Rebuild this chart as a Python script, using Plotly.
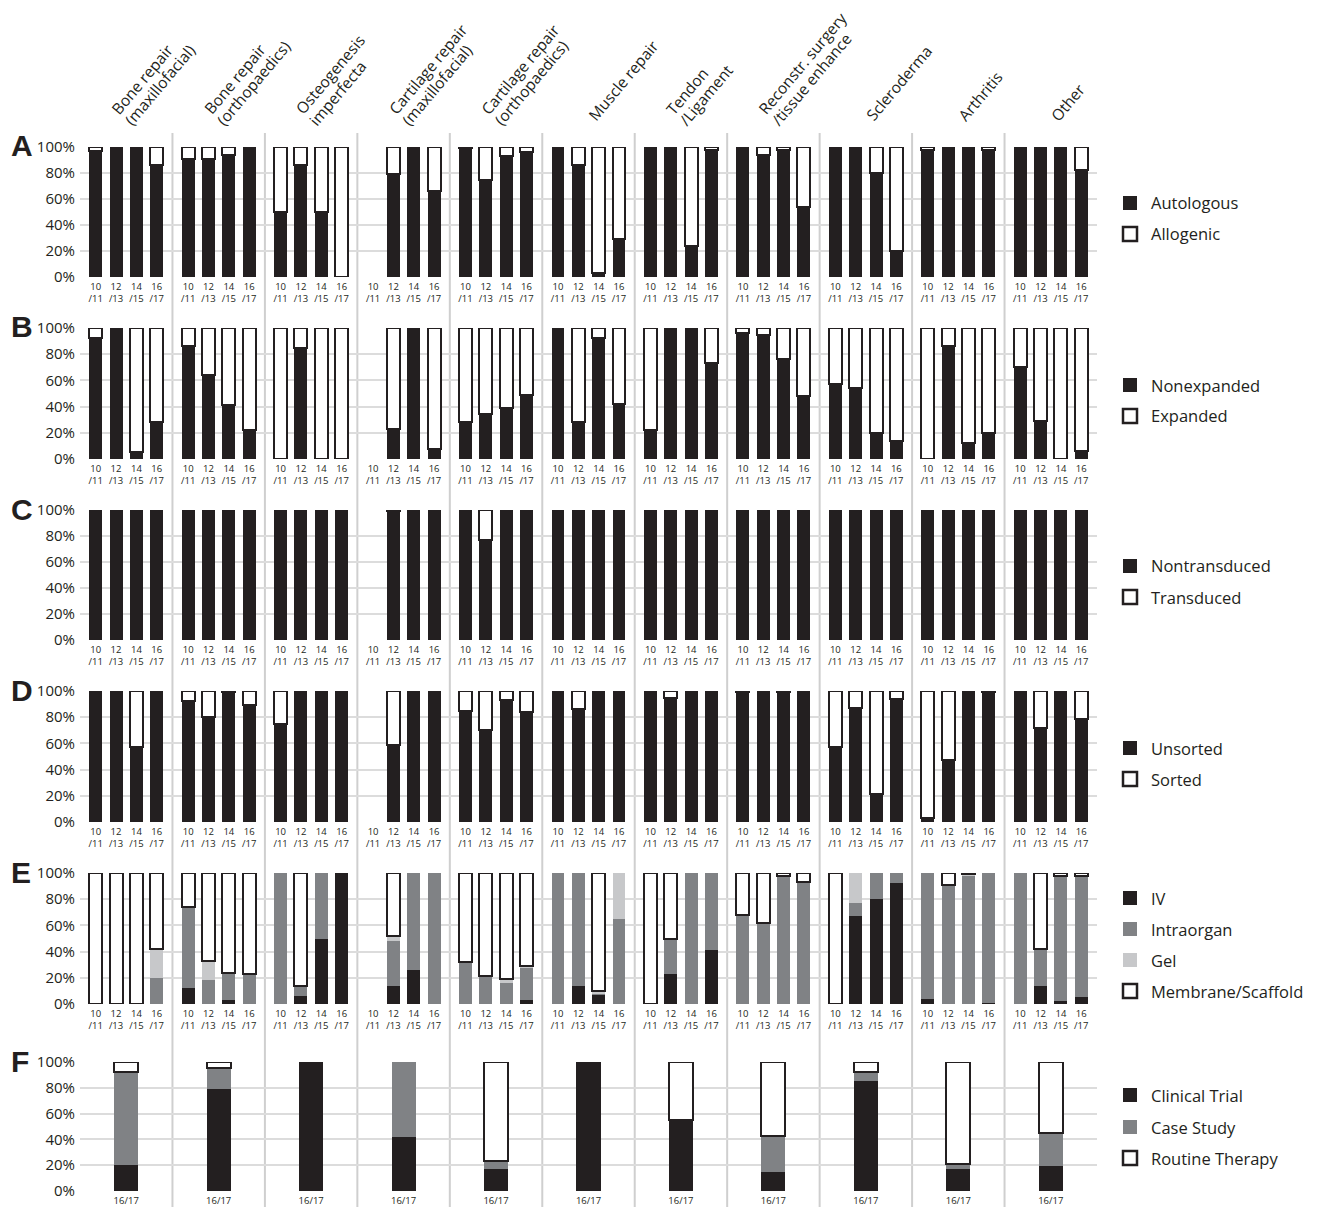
import math
import plotly.graph_objects as go

# ---------------- data ----------------
groups = [["Bone repair", "(maxillofacial)"], ["Bone repair", "(orthopaedics)"], ["Osteogenesis", "imperfecta"],
          ["Cartilage repair", "(maxillofacial)"], ["Cartilage repair", "(orthopaedics)"], ["Muscle repair"],
          ["Tendon", "/Ligament"], ["Reconstr. surgery", "/tissue enhance"], ["Scleroderma"], ["Arthritis"], ["Other"]]
periods = ["10<br>/11", "12<br>/13", "14<br>/15", "16<br>/17"]
period_f = "16/17"
pct_ticks = [0, 20, 40, 60, 80, 100]
pct_text = ["0%", "20%", "40%", "60%", "80%", "100%"]

# Row A: % autologous (rest allogenic)
autologous = [[97, 100, 100, 86], [91, 91, 94, 100], [50, 86, 50, 0], [None, 79, 100, 66],
              [99, 75, 93, 96], [100, 86, 3, 29], [100, 100, 24, 98], [100, 94, 98, 54],
              [100, 100, 80, 20], [98, 100, 100, 98], [100, 100, 100, 82]]
# Row B: % nonexpanded
nonexpanded = [[92, 100, 5, 28], [86, 64, 41, 22], [0, 85, 0, 0], [None, 23, 100, 8],
               [28, 34, 39, 49], [100, 28, 92, 42], [22, 100, 100, 73], [96, 95, 76, 48],
               [57, 54, 20, 14], [0, 86, 12, 20], [70, 29, 0, 6]]
# Row C: % nontransduced
nontransduced = [[100, 100, 100, 100], [100, 100, 100, 100], [100, 100, 100, 100], [None, 99, 100, 100],
                 [100, 77, 100, 100], [100, 100, 100, 100], [100, 100, 100, 100], [100, 100, 100, 100],
                 [100, 100, 100, 100], [100, 100, 100, 100], [100, 100, 100, 100]]
# Row D: % unsorted
unsorted = [[100, 100, 57, 100], [92, 80, 99, 89], [75, 100, 100, 100], [None, 59, 100, 100],
            [85, 70, 93, 84], [100, 86, 100, 100], [100, 95, 100, 100], [99, 100, 99, 100],
            [57, 87, 21, 94], [3, 47, 100, 99], [100, 72, 100, 79]]
# Row E: IV / Intraorgan / Gel / Membrane-Scaffold
e_iv = [[0, 0, 0, 0], [12, 0, 3, 0], [0, 6, 50, 100], [None, 14, 26, 0], [0, 0, 0, 3],
        [0, 14, 7, 0], [0, 23, 0, 41], [0, 0, 0, 0], [0, 67, 80, 92], [4, 0, 0, 1], [0, 14, 2, 5]]
e_intra = [[0, 0, 0, 20], [62, 18, 21, 23], [100, 8, 50, 0], [None, 34, 74, 100], [32, 21, 16, 25],
           [100, 86, 1, 65], [0, 27, 100, 59], [68, 62, 97, 93], [0, 10, 20, 8], [96, 91, 98, 99],
           [100, 28, 95, 93]]
e_gel = [[0, 0, 0, 22], [0, 15, 0, 0], [0, 0, 0, 0], [None, 4, 0, 0], [0, 0, 3, 1],
         [0, 0, 2, 35], [0, 0, 0, 0], [0, 0, 1, 0], [0, 23, 0, 0], [0, 0, 1, 0], [0, 0, 1, 0]]
e_memb = [[100, 100, 100, 58], [26, 67, 76, 77], [0, 86, 0, 0], [None, 48, 0, 0], [68, 79, 81, 71],
          [0, 0, 90, 0], [100, 50, 0, 0], [32, 38, 2, 7], [100, 0, 0, 0], [0, 9, 1, 0], [0, 58, 2, 2]]
# Row F: Clinical Trial / Case Study / Routine Therapy (16/17 only)
f_trial = [20, 79, 100, 42, 17, 100, 55, 15, 85, 17, 19]
f_case = [72, 16, 0, 58, 6, 0, 0, 28, 7, 4, 26]
f_routine = [8, 5, 0, 0, 77, 0, 45, 57, 8, 79, 55]

BLACK = "#231f20"
GRAY = "#808285"
LIGHT = "#c7c8ca"
WHITE = "#ffffff"
GRID = "#dcdcdc"
SEP = "#cfcfcf"
FONT = "Open Sans"

# page body has an 8px margin: the figure is sized so page == window
OFF = 8
W, H = 1318 - OFF, 1207 - OFF
X0, X1 = 80, 1097
rows_pix = [(147, 277), (328, 459), (510, 640), (691, 822), (873, 1004), (1062, 1191)]


def xp(px):
    return (px - OFF) / W


def yp(py):
    return 1 - (py - OFF) / H


def nz(v):
    return None if (v is None or v == 0) else v


NG = len(groups)
offs = [-0.33, -0.11, 0.11, 0.33]
bar_x = [g + o for g in range(NG) for o in offs]
bar_text = [periods[j] for g in range(NG) for j in range(4)]

fig = go.Figure()


def add_row(row, series):
    """series: list of (values 11x4, colour, outlined)"""
    xa = "x" if row == 0 else f"x{row + 1}"
    ya = "y" if row == 0 else f"y{row + 1}"
    for vals, col, outl in series:
        flat = [nz(v) for gv in vals for v in gv]
        fig.add_trace(go.Bar(
            x=bar_x, y=flat, width=0.14, xaxis=xa, yaxis=ya,
            marker=dict(color=col, line=dict(color=BLACK if outl else col, width=2 if outl else 0)),
            showlegend=False, hoverinfo="skip"))


def comp(vals):
    return [[None if v is None else 100 - v for v in gv] for gv in vals]


add_row(0, [(autologous, BLACK, False), (comp(autologous), WHITE, True)])
add_row(1, [(nonexpanded, BLACK, False), (comp(nonexpanded), WHITE, True)])
add_row(2, [(nontransduced, BLACK, False), (comp(nontransduced), WHITE, True)])
add_row(3, [(unsorted, BLACK, False), (comp(unsorted), WHITE, True)])
add_row(4, [(e_iv, BLACK, False), (e_intra, GRAY, False), (e_gel, LIGHT, False), (e_memb, WHITE, True)])

# Row F
for vals, col, outl in [(f_trial, BLACK, False), (f_case, GRAY, False), (f_routine, WHITE, True)]:
    fig.add_trace(go.Bar(
        x=list(range(NG)), y=[nz(v) for v in vals], width=0.26, xaxis="x6", yaxis="y6",
        marker=dict(color=col, line=dict(color=BLACK if outl else col, width=2 if outl else 0)),
        showlegend=False, hoverinfo="skip"))

layout = dict(
    width=W, height=H, margin=dict(l=0, r=0, t=0, b=0, pad=0, autoexpand=False),
    paper_bgcolor="white", plot_bgcolor="rgba(0,0,0,0)",
    barmode="stack", bargap=0, showlegend=False,
    font=dict(family=FONT, color=BLACK),
)

for r, (top, bot) in enumerate(rows_pix):
    xk = "xaxis" if r == 0 else f"xaxis{r + 1}"
    yk = "yaxis" if r == 0 else f"yaxis{r + 1}"
    ya = "y" if r == 0 else f"y{r + 1}"
    if r < 5:
        tv, tt = bar_x, bar_text
    else:
        tv, tt = list(range(NG)), [period_f] * NG
    layout[xk] = dict(domain=[xp(X0), xp(X1)], range=[-0.5, NG - 0.5], anchor=ya,
                      showgrid=False, zeroline=False, showline=False, ticks="", automargin=False,
                      tickmode="array", tickvals=tv, ticktext=tt,
                      tickfont=dict(size=9.5, family=FONT, color=BLACK),
                      ticklabelstandoff=2, fixedrange=True)
    layout[yk] = dict(domain=[yp(bot), yp(top)], range=[0, 100], anchor="x" if r == 0 else f"x{r + 1}",
                      tickmode="array", tickvals=pct_ticks, ticktext=pct_text, automargin=False,
                      showgrid=True, gridcolor=GRID, gridwidth=2, zeroline=False, showline=False,
                      ticks="", tickfont=dict(size=15, family=FONT, color=BLACK),
                      ticklabelstandoff=4, fixedrange=True)

fig.update_layout(**layout)

shapes = []
# group separators
for g in range(NG - 1):
    shapes.append(dict(type="line", xref="x", yref="paper", x0=g + 0.5, x1=g + 0.5,
                       y0=yp(133), y1=0, line=dict(color=SEP, width=2), layer="below"))

annotations = []
# panel letters
for letter, (top, bot) in zip("ABCDEF", rows_pix):
    annotations.append(dict(text=f"<b>{letter}</b>", xref="paper", yref="paper", x=xp(9), y=yp(top - 1),
                            xanchor="left", yanchor="middle", showarrow=False,
                            font=dict(size=30, family="Liberation Sans", color=BLACK)))

# column headers (rotated, one annotation per line)
ANG = 50
LS = 17
dxl, dyl = LS * math.sin(math.radians(ANG)), LS * math.cos(math.radians(ANG))
for g, lines in enumerate(groups):
    cx = X0 + (g + 0.5) * (X1 - X0) / NG
    if len(lines) == 2:
        starts = [(cx - 23, 121.5), (cx - 23 + dxl, 121.5 + dyl)]
    else:
        starts = [(cx - 8, 128)]
    for txt, (sx, sy) in zip(lines, starts):
        annotations.append(dict(text=txt, xref="paper", yref="paper", x=xp(sx), y=yp(sy),
                                xanchor="left", yanchor="bottom", textangle=-ANG,
                                showarrow=False, font=dict(size=15.5, family=FONT, color=BLACK)))

# legends
legends = [
    [("Autologous", BLACK, 203), ("Allogenic", WHITE, 234)],
    [("Nonexpanded", BLACK, 385), ("Expanded", WHITE, 416)],
    [("Nontransduced", BLACK, 566), ("Transduced", WHITE, 597)],
    [("Unsorted", BLACK, 748), ("Sorted", WHITE, 779)],
    [("IV", BLACK, 898), ("Intraorgan", GRAY, 929), ("Gel", LIGHT, 960), ("Membrane/Scaffold", WHITE, 991)],
    [("Clinical Trial", BLACK, 1095), ("Case Study", GRAY, 1127), ("Routine Therapy", WHITE, 1158)],
]
for block in legends:
    for label, col, cy in block:
        outl = col == WHITE
        shapes.append(dict(type="rect", xref="paper", yref="paper",
                           x0=xp(1123), x1=xp(1137), y0=yp(cy + 7), y1=yp(cy - 7),
                           fillcolor=col, line=dict(color=BLACK if outl else col, width=2.5 if outl else 0)))
        annotations.append(dict(text=label, xref="paper", yref="paper", x=xp(1149), y=yp(cy),
                                xanchor="left", yanchor="middle", showarrow=False,
                                font=dict(size=16.5, family=FONT, color=BLACK)))

fig.update_layout(shapes=shapes, annotations=annotations)
fig.write_html("out.html")
